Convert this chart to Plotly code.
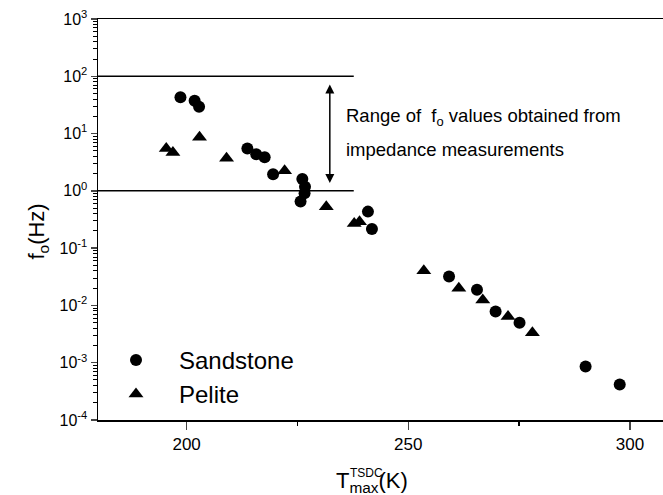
import math
import plotly.graph_objects as go

# ---- data ----
sand_T = [198.6, 201.8, 202.8, 213.7, 215.7, 217.6, 219.5, 226.1, 226.7, 226.6, 225.7,
          240.9, 241.8, 259.2, 265.5, 269.7, 275.1, 290.0, 297.7]
sand_f = [43, 37.5, 29.5, 5.5, 4.35, 3.86, 1.95, 1.61, 1.18, 0.91, 0.65,
          0.434, 0.216, 0.032, 0.0187, 0.0078, 0.0050, 0.00086, 0.000415]
pel_T = [195.4, 196.9, 202.9, 209.0, 222.1, 231.5, 237.8, 239.0, 253.5, 261.4, 266.8, 272.5, 278.0]
pel_f = [5.5, 4.68, 8.6, 3.7, 2.25, 0.53, 0.27, 0.29, 0.0405, 0.020, 0.0125, 0.0064, 0.00335]

range_T = [180, 237.7]          # extent of the horizontal range lines
range_lo = [1, 1]
range_hi = [100, 100]
arrow_T = 232.3
arrow_top, arrow_bot = 76, 1.37

x_ticks = [200, 250, 300]
x_minor = [225, 275]
y_ticks = [1e-4, 1e-3, 1e-2, 1e-1, 1e0, 1e1, 1e2, 1e3]
y_ticktext = ["10<sup>-4</sup>", "10<sup>-3</sup>", "10<sup>-2</sup>", "10<sup>-1</sup>",
              "10<sup>0</sup>", "10<sup>1</sup>", "10<sup>2</sup>", "10<sup>3</sup>"]

FONT = "Arial, Liberation Sans, sans-serif"

fig = go.Figure()
fig.add_trace(go.Scatter(x=range_T, y=range_hi, mode="lines", line=dict(color="black", width=1.5),
                         showlegend=False, hoverinfo="skip"))
fig.add_trace(go.Scatter(x=range_T, y=range_lo, mode="lines", line=dict(color="black", width=1.5),
                         showlegend=False, hoverinfo="skip"))
fig.add_trace(go.Scatter(x=sand_T, y=sand_f, mode="markers", name="Sandstone",
                         marker=dict(symbol="circle", size=12, color="black")))
fig.add_trace(go.Scatter(x=pel_T, y=pel_f, mode="markers", name="Pelite",
                         marker=dict(symbol="triangle-up", size=13, color="black")))

# double-headed arrow
fig.add_annotation(x=arrow_T, y=math.log10(arrow_bot), ax=arrow_T, ay=math.log10(arrow_top),
                   xref="x", yref="y", axref="x", ayref="y", text="", showarrow=True,
                   arrowside="end+start", arrowhead=2, arrowsize=1.2, arrowwidth=1.5,
                   arrowcolor="black")
fig.add_annotation(x=235.6, y=1.29, xref="x", yref="y", xanchor="left", yanchor="middle",
                   text="Range of  f<sub>o</sub> values obtained from", showarrow=False,
                   font=dict(family=FONT, size=18.5, color="black"))
fig.add_annotation(x=235.6, y=0.714, xref="x", yref="y", xanchor="left", yanchor="middle",
                   text="impedance measurements", showarrow=False,
                   font=dict(family=FONT, size=18.5, color="black"))

# axis titles
fig.add_annotation(xref="paper", yref="paper", x=0, y=0.47, xshift=-60, textangle=-90,
                   xanchor="center", yanchor="middle",
                   text="f<sub>o</sub>(Hz)", showarrow=False,
                   font=dict(family=FONT, size=22, color="black"))
fig.add_annotation(xref="paper", yref="paper", x=0, y=0, xshift=334 - 98, yshift=-(482 - 420),
                   xanchor="left", yanchor="middle",
                   text="T<sub>max</sub>(K)", showarrow=False,
                   font=dict(family=FONT, size=22, color="black"))
fig.add_annotation(xref="paper", yref="paper", x=0, y=0, xshift=348 - 98, yshift=-(473 - 420),
                   xanchor="left", yanchor="middle",
                   text="TSDC", showarrow=False,
                   font=dict(family=FONT, size=12, color="black"))

# plot area extends a little past the 663 px window, as in the reference
fig.update_layout(
    width=680, height=495,
    margin=dict(l=98, r=0, t=19, b=75),
    plot_bgcolor="white", paper_bgcolor="white",
    hovermode=False, dragmode=False,
    font=dict(family=FONT, color="black"),
    legend=dict(x=-0.0086, y=0.205, xanchor="left", yanchor="top", bgcolor="rgba(0,0,0,0)",
                itemwidth=76, tracegroupgap=0,
                font=dict(family=FONT, size=24, color="black")),
    xaxis=dict(range=[180, 311.3], tickvals=x_ticks, ticks="outside", ticklen=8, tickwidth=1.5,
               showline=True, linewidth=1.5, linecolor="black", mirror=True,
               showgrid=False, zeroline=False, ticklabeloverflow="allow", fixedrange=True,
               tickfont=dict(family=FONT, size=17, color="black"),
               minor=dict(tickvals=x_minor, ticks="outside", ticklen=4, tickwidth=1.5, tickcolor="black")),
    yaxis=dict(type="log", range=[-4, 3], tickvals=y_ticks, ticktext=y_ticktext,
               ticks="outside", ticklen=6, tickwidth=1.5, mirror=False,
               showline=True, linewidth=1.5, linecolor="black",
               showgrid=False, zeroline=False, ticklabeloverflow="allow", fixedrange=True,
               tickfont=dict(family=FONT, size=16, color="black"),
               minor=dict(dtick="D1", ticks="outside", ticklen=4, tickwidth=1, tickcolor="black",
                          showgrid=False)),
)

fig.write_html("out.html", config={"displayModeBar": False, "staticPlot": True},
               post_script="document.documentElement.style.overflow='hidden';"
                           "document.body.style.overflow='hidden';"
                           "document.body.style.margin='0';")
